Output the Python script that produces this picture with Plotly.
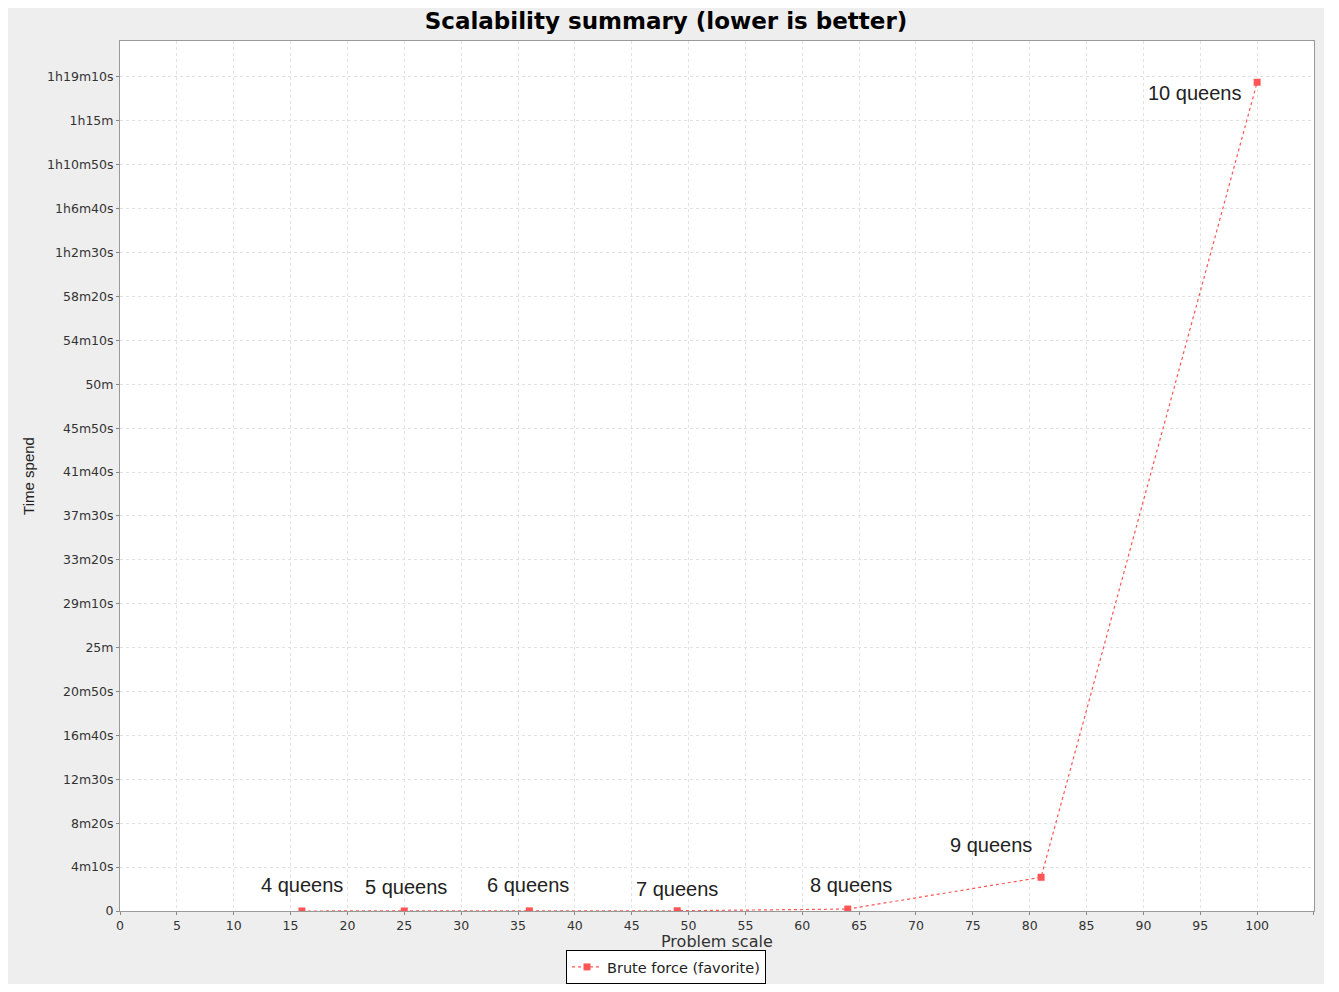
import plotly.graph_objects as go

# === data ===
labels = ["4 queens", "5 queens", "6 queens", "7 queens", "8 queens", "9 queens", "10 queens"]
problem_scale = [16, 25, 36, 49, 64, 81, 100]
time_spent_s = [0.05, 0.1, 0.6, 1.5, 11, 192, 4720]

y_tickvals = [0, 250, 500, 750, 1000, 1250, 1500, 1750, 2000, 2250,
              2500, 2750, 3000, 3250, 3500, 3750, 4000, 4250, 4500, 4750]
y_ticktext = ["0", "4m10s", "8m20s", "12m30s", "16m40s", "20m50s", "25m", "29m10s",
              "33m20s", "37m30s", "41m40s", "45m50s", "50m", "54m10s", "58m20s",
              "1h2m30s", "1h6m40s", "1h10m50s", "1h15m", "1h19m10s"]
x_tickvals = list(range(0, 110, 5))

# label offsets (px) relative to each point
label_shift = [(0, 26), (2, 24), (-1, 26), (0, 22), (3, 24), (-50, 32), (-63, -11)]

red = "#FF5555"

fig = go.Figure()
fig.add_trace(go.Scatter(
    x=problem_scale,
    y=time_spent_s,
    mode="lines+markers",
    name="Brute force (favorite)",
    line=dict(color=red, width=1.2, dash="dot"),
    marker=dict(color=red, symbol="square", size=7),
))

for lab, xv, yv, (dx, dy) in zip(labels, problem_scale, time_spent_s, label_shift):
    fig.add_annotation(
        x=xv, y=yv, text=lab, showarrow=False,
        xshift=dx, yshift=dy,
        font=dict(family="Liberation Sans", size=20, color="#222222"),
    )

# x axis title as a plain annotation below the tick labels
fig.add_annotation(
    x=0.5, xref="paper", y=0, yref="paper", yshift=-30,
    yanchor="middle", text="Problem scale", showarrow=False,
    font=dict(family="DejaVu Sans", size=16, color="#333333"),
)

axis_common = dict(
    showgrid=True,
    gridcolor="#e2e2e2",
    griddash="3px,3px",
    gridwidth=1,
    showline=True,
    linecolor="#999999",
    mirror=True,
    ticks="outside",
    ticklen=3,
    tickcolor="#888888",
    zeroline=False,
    automargin=True,
    tickfont=dict(family="DejaVu Sans", size=12.5, color="#333333"),
)

fig.update_layout(
    width=1316,
    height=976,
    margin=dict(l=112, r=10, t=33, b=73, autoexpand=False),
    paper_bgcolor="#EEEEEE",
    plot_bgcolor="white",
    title=dict(
        text="<b>Scalability summary (lower is better)</b>",
        x=0.5, xref="container", xanchor="center",
        y=1 - 13 / 976, yref="container", yanchor="middle",
        font=dict(family="DejaVu Sans", size=23, color="black"),
    ),
    xaxis=dict(
        axis_common,
        range=[0, 105.001],
        tickvals=x_tickvals,
    ),
    yaxis=dict(
        axis_common,
        range=[0, 4955],
        tickvals=y_tickvals,
        ticktext=y_ticktext,
        title=dict(text="Time spend", standoff=8,
                   font=dict(family="Liberation Sans", size=15, color="#222222")),
    ),
    showlegend=True,
    legend=dict(
        x=0.5, xref="container", xanchor="center",
        y=0, yref="container", yanchor="bottom",
        orientation="h",
        itemwidth=30,
        bgcolor="white",
        bordercolor="black",
        borderwidth=1,
        font=dict(family="DejaVu Sans", size=14.5, color="#222222"),
    ),
)

fig.write_html("out.html")
